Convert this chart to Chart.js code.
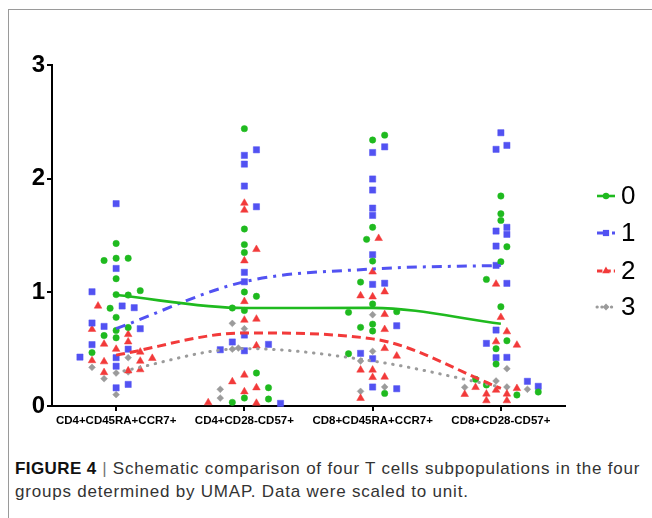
<!DOCTYPE html>
<html>
<head>
<meta charset="utf-8">
<script src="https://cdn.jsdelivr.net/npm/chart.js@4.4.1/dist/chart.umd.min.js"></script>
<style>
    body { margin: 0; background: #fff; width: 652px; height: 518px; overflow: hidden; position: relative; }
    #frame { position: absolute; left: 8px; top: 9px; right: 0; bottom: 0; border-top: 1px solid #9a9a9a; border-left: 1px solid #9a9a9a; }
    #chart { position: absolute; left: 0; top: 0; }
    #caption {
        position: absolute; left: 15px; top: 457px;
        font-family: 'Liberation Sans', Arial, sans-serif; font-size: 17px; line-height: 23px;
        letter-spacing: 0.79px; color: #333; white-space: nowrap;
    }
    #caption b { color: #111; letter-spacing: 0.4px; }
    #caption .bar { color: #777; }
</style>
</head>
<body>
<div id="frame"></div>
<canvas id="chart" width="652" height="440"></canvas>
<div id="caption"><b>FIGURE 4</b> <span class="bar">|</span> Schematic comparison of four T cells subpopulations in the four<br>groups determined by UMAP. Data were scaled to unit.</div>

<script>
// ─── Data (value, column slot within category) ───

const categories = ['CD4+CD45RA+CCR7+', 'CD4+CD28-CD57+', 'CD8+CD45RA+CCR7+', 'CD8+CD28-CD57+'];
const groupNames = ['0', '1', '2', '3'];
const yTicks = [0, 1, 2, 3];

const group0 = [
    [[1.43, 0], [1.28, -1], [1.30, 0], [1.30, 1], [1.12, 0], [0.98, 0], [0.976, 1], [1.015, 2], [0.86, -0.5], [0.78, 0], [0.665, 0], [0.69, 1], [0.62, -1], [0.60, 0], [0.47, -2]],
    [[2.44, 0], [1.557, 0], [1.42, 0], [1.35, 0], [1.003, 0], [0.965, 1], [0.862, -1], [0.84, 0], [0.29, 1], [0.161, 2], [0.07, 0], [0.032, -1], [0.061, 2]],
    [[2.34, 0], [2.383, 1], [1.572, 0], [1.466, -0.5], [1.275, 0], [1.09, -1], [0.897, 0], [0.824, -2], [0.83, 2], [0.72, 0], [0.692, -1], [0.66, 0], [0.46, -2], [0.111, 1]],
    [[1.847, 0], [1.691, 0], [1.633, 0], [1.401, 0.5], [1.269, 0], [1.114, -1.2], [0.873, 0], [0.574, 0.5], [0.504, -0.4], [0.369, -0.4], [0.235, -2.1], [0.185, -1.2], [0.097, 1.33], [0.123, 3.1]]
];

const group1 = [
    [[1.78, 0], [1.21, 0], [1.005, -2], [0.88, 0.5], [0.865, 1.5], [0.73, -2], [0.70, -1], [0.68, 2], [0.54, -2], [0.50, 1], [0.43, -3], [0.425, 0], [0.35, 0], [0.19, 1], [0.16, 0]],
    [[2.254, 1], [2.205, 0], [2.128, 0], [1.935, 0], [1.753, 1], [1.176, 0], [1.093, 0], [0.624, 0], [0.563, -1], [0.542, 2], [0.495, -2], [0.486, 0], [0.023, 3]],
    [[2.28, 1], [2.23, 0], [1.997, 0], [1.90, 0], [1.741, 0], [1.677, 0], [1.331, 0], [1.07, 0], [1.08, 1], [0.706, 2], [0.463, -1], [0.416, 0], [0.167, 0], [0.152, 2]],
    [[2.404, 0], [2.293, 0.5], [2.258, -0.4], [1.572, 0.5], [1.539, -0.4], [1.51, 0.5], [1.407, -0.4], [1.237, -0.4], [1.079, 0.5], [0.668, -0.4], [0.551, -1.2], [0.425, -0.4], [0.428, 0.5], [0.217, 2.2], [0.173, 3.1]]
];

const group2 = [
    [[0.88, -1.5], [0.675, -2], [0.63, 1], [0.565, 1], [0.545, -1], [0.50, 0], [0.475, 2], [0.42, 3], [0.40, -2], [0.39, -1], [0.395, 2], [0.31, 1], [0.32, 2], [0.295, -1]],
    [[1.785, 0], [1.724, 0], [1.378, 1], [1.278, 0], [0.92, 0], [0.756, 0], [0.765, 1], [0.53, 1], [0.273, 0], [0.214, -1], [0.126, 0], [0.161, 1], [0.03, -3], [0.025, 1]],
    [[1.475, 0.5], [1.18, 0], [0.97, -1], [0.961, 0], [1.005, 1], [0.806, 1], [0.674, 1], [0.507, 1], [0.44, 2], [0.317, -1], [0.317, 0], [0.252, 0], [0.255, 1], [0.068, -1]],
    [[1.073, -0.4], [0.78, 0], [0.654, 0.5], [0.566, -0.4], [0.536, 1.33], [0.164, -2.1], [0.103, -3], [0.106, -1.2], [0.14, -0.4], [0.106, 0.5], [0.155, 1.33], [0.047, -1.2], [0.047, 0.5]]
];

const group3 = [
    [[0.425, 1], [0.34, -2], [0.29, 0], [0.30, 1], [0.24, -1], [0.10, 0]],
    [[0.727, -1], [0.68, 0], [0.50, -1], [0.51, -0.5], [0.147, -2], [0.07, -2]],
    [[0.803, 0], [0.481, 0], [0.396, -1], [0.129, -1], [0.167, 1]],
    [[0.328, 0.5], [0.22, -0.4], [0.164, -3], [0.167, 0.5], [0.147, 2.2]]
];

const SLOT = 0.094; // width of one scatter column, in category units

const STYLES = [
    { color: '#1fba1f', point: 'circle', radius: 3.2, dash: [], width: 2.6, cap: 'butt' },
    { color: '#5252f2', point: 'rect', radius: 4.4, dash: [10, 6, 3, 6], width: 3, cap: 'butt' },
    { color: '#f23a3a', point: 'triangle', radius: 4.4, dash: [9, 5], width: 3, cap: 'butt' },
    { color: '#9b9b9b', point: 'rectRot', radius: 3.4, dash: [0.5, 7.5], width: 3, cap: 'round' }
];

const groups = [group0, group1, group2, group3];

function median(values) {
    const s = [...values].sort((a, b) => a - b);
    const m = Math.floor(s.length / 2);
    return s.length % 2 ? s[m] : (s[m - 1] + s[m]) / 2;
}

// Median trend lines (drawn on top, so listed first)
const lineSets = groups.map((g, i) => ({
    type: 'line',
    label: groupNames[i] + ' median',
    data: g.map((pts, ci) => ({ x: ci + 1, y: median(pts.map(p => p[0])) })),
    borderColor: STYLES[i].color,
    borderWidth: STYLES[i].width,
    borderDash: STYLES[i].dash,
    borderCapStyle: STYLES[i].cap,
    cubicInterpolationMode: 'monotone',
    pointRadius: 0,
    fill: false,
    clip: false
}));

const pointSets = groups.map((g, i) => ({
    type: 'scatter',
    label: groupNames[i],
    data: g.flatMap((pts, ci) => pts.map(([v, s]) => ({ x: ci + 1 + s * SLOT, y: v }))),
    pointStyle: STYLES[i].point,
    pointRadius: STYLES[i].radius,
    pointBackgroundColor: STYLES[i].color,
    pointBorderColor: STYLES[i].color,
    pointBorderWidth: 0.5,
    clip: false
}));

// Legend drawn GraphPad style: short line with marker in the middle
const legendPlugin = {
    id: 'sideLegend',
    afterDraw(chart) {
        const ctx = chart.ctx;
        const ys = [196, 233, 271, 307];
        groupNames.forEach((name, i) => {
            const st = STYLES[i];
            const y = ys[i];
            ctx.save();
            ctx.strokeStyle = st.color;
            ctx.lineWidth = st.width;
            ctx.lineCap = st.cap;
            ctx.setLineDash(st.dash.length ? st.dash.map(d => d * 0.6) : []);
            ctx.beginPath();
            ctx.moveTo(597, y);
            ctx.lineTo(615, y);
            ctx.stroke();
            ctx.setLineDash([]);
            ctx.fillStyle = st.color;
            const r = st.radius;
            const x = 606;
            ctx.beginPath();
            if (st.point === 'circle') {
                ctx.arc(x, y, r, 0, Math.PI * 2);
            } else if (st.point === 'rect') {
                const h = r * Math.SQRT1_2;
                ctx.rect(x - h, y - h, 2 * h, 2 * h);
            } else if (st.point === 'triangle') {
                ctx.moveTo(x, y - r);
                ctx.lineTo(x + r * 0.866, y + r * 0.5);
                ctx.lineTo(x - r * 0.866, y + r * 0.5);
                ctx.closePath();
            } else {
                ctx.moveTo(x, y - r);
                ctx.lineTo(x + r, y);
                ctx.lineTo(x, y + r);
                ctx.lineTo(x - r, y);
                ctx.closePath();
            }
            ctx.fill();
            ctx.fillStyle = '#000';
            ctx.font = '26px "Liberation Sans", Arial, sans-serif';
            ctx.textBaseline = 'middle';
            ctx.textAlign = 'left';
            ctx.fillText(name, 621, y + 1);
            ctx.restore();
        });
    }
};

new Chart(document.getElementById('chart'), {
    data: { datasets: [...lineSets, ...pointSets] },
    options: {
        responsive: false,
        animation: false,
        layout: { padding: { top: 65, right: 87, left: 0, bottom: 0 } },
        plugins: { legend: { display: false }, tooltip: { enabled: false } },
        scales: {
            x: {
                type: 'linear',
                min: 0.5,
                max: 4.5,
                afterBuildTicks: axis => { axis.ticks = categories.map((c, i) => ({ value: i + 1 })); },
                afterFit: axis => { axis.height = 34; },
                ticks: {
                    callback: v => categories[v - 1],
                    color: '#000',
                    font: { family: 'Liberation Sans', size: 11.5, weight: 'bold' },
                    padding: 3,
                    maxRotation: 0,
                    autoSkip: false
                },
                grid: { display: true, drawOnChartArea: false, drawTicks: true, tickLength: 5, color: '#000', lineWidth: 2 },
                border: { display: true, color: '#000', width: 2 }
            },
            y: {
                min: 0,
                max: 3,
                afterBuildTicks: axis => { axis.ticks = yTicks.map(v => ({ value: v })); },
                afterFit: axis => { axis.width = 52; },
                ticks: {
                    color: '#000',
                    font: { family: 'Liberation Sans', size: 24, weight: 'bold' },
                    padding: 2
                },
                grid: { display: true, drawOnChartArea: false, drawTicks: true, tickLength: 5, color: '#000', lineWidth: 2 },
                border: { display: true, color: '#000', width: 2 }
            }
        }
    },
    plugins: [legendPlugin]
});
</script>
</body>
</html>
